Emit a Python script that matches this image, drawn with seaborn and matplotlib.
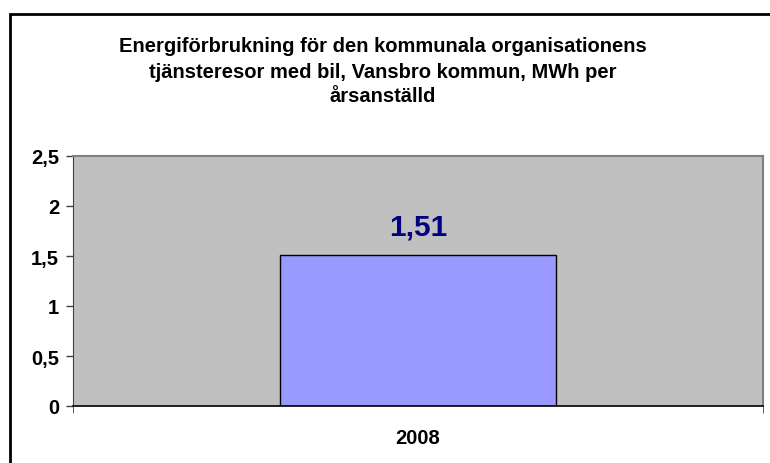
import matplotlib
matplotlib.use('Agg')
import matplotlib.pyplot as plt
import matplotlib.ticker as mticker
from matplotlib.patches import Rectangle
import seaborn as sns
import pandas as pd

# data
years = ['2008']
values = [1.51]
y_ticks = [0, 0.5, 1, 1.5, 2, 2.5]

title = ('Energiförbrukning för den kommunala organisationens\n'
         'tjänsteresor med bil, Vansbro kommun, MWh per\n'
         'årsanställd')

sns.set_style('white')
plt.rcParams['font.family'] = ['Liberation Sans', 'DejaVu Sans']
plt.rcParams['text.color'] = 'black'
plt.rcParams['xtick.labelcolor'] = 'black'
plt.rcParams['ytick.labelcolor'] = 'black'

df = pd.DataFrame({'year': years, 'value': values})

fig = plt.figure(figsize=(7.7, 4.64), dpi=100)
ax = fig.add_axes([73 / 770, 1 - 407 / 464, 690 / 770, 250 / 464])

sns.barplot(data=df, x='year', y='value', color='#9999FF', width=0.4,
            edgecolor='black', linewidth=1.0, saturation=1, ax=ax)

ax.set_facecolor('#C0C0C0')
ax.set_xlim(-0.5, 0.5)
ax.set_ylim(0, 2.5)
ax.set_yticks(y_ticks)
ax.yaxis.set_major_formatter(mticker.FuncFormatter(
    lambda v, p: ('%g' % v).replace('.', ',')))
ax.set_xlabel('')
ax.set_ylabel('')

for s in ['top', 'right']:
    ax.spines[s].set_color('#808080')
    ax.spines[s].set_linewidth(1.5)
ax.spines['left'].set_color('#404040')
ax.spines['bottom'].set_color('black')
ax.spines['bottom'].set_linewidth(1.2)

ax.tick_params(axis='y', direction='out', length=5, width=1, color='#404040',
               labelcolor='black', labelsize=14.5, pad=5, left=True)
ax.tick_params(axis='x', which='major', length=0, labelcolor='black',
               labelsize=14.5, pad=16)
ax.set_xticks([-0.5, 0.5], minor=True)
ax.tick_params(axis='x', which='minor', direction='out', length=5,
               color='#404040', bottom=True)
for lab in ax.get_yticklabels() + ax.get_xticklabels():
    lab.set_fontweight('bold')

# value label
for i, v in enumerate(values):
    ax.text(i, v + 0.14, ('%.2f' % v).replace('.', ','), ha='center',
            va='bottom', fontsize=21.5, fontweight='bold', color='#000080')

fig.text(383 / 770, 1 - 72 / 464, title, ha='center', va='center',
         fontsize=14.5, fontweight='bold', linespacing=1.4, color='black')

# outer chart border
fig.patches.append(Rectangle((10 / 770, -0.1), 1.2, 1 - 15 / 464 + 0.1,
                             transform=fig.transFigure, fill=False,
                             edgecolor='black', linewidth=2, zorder=10))

fig.savefig('out.png', dpi=100)
